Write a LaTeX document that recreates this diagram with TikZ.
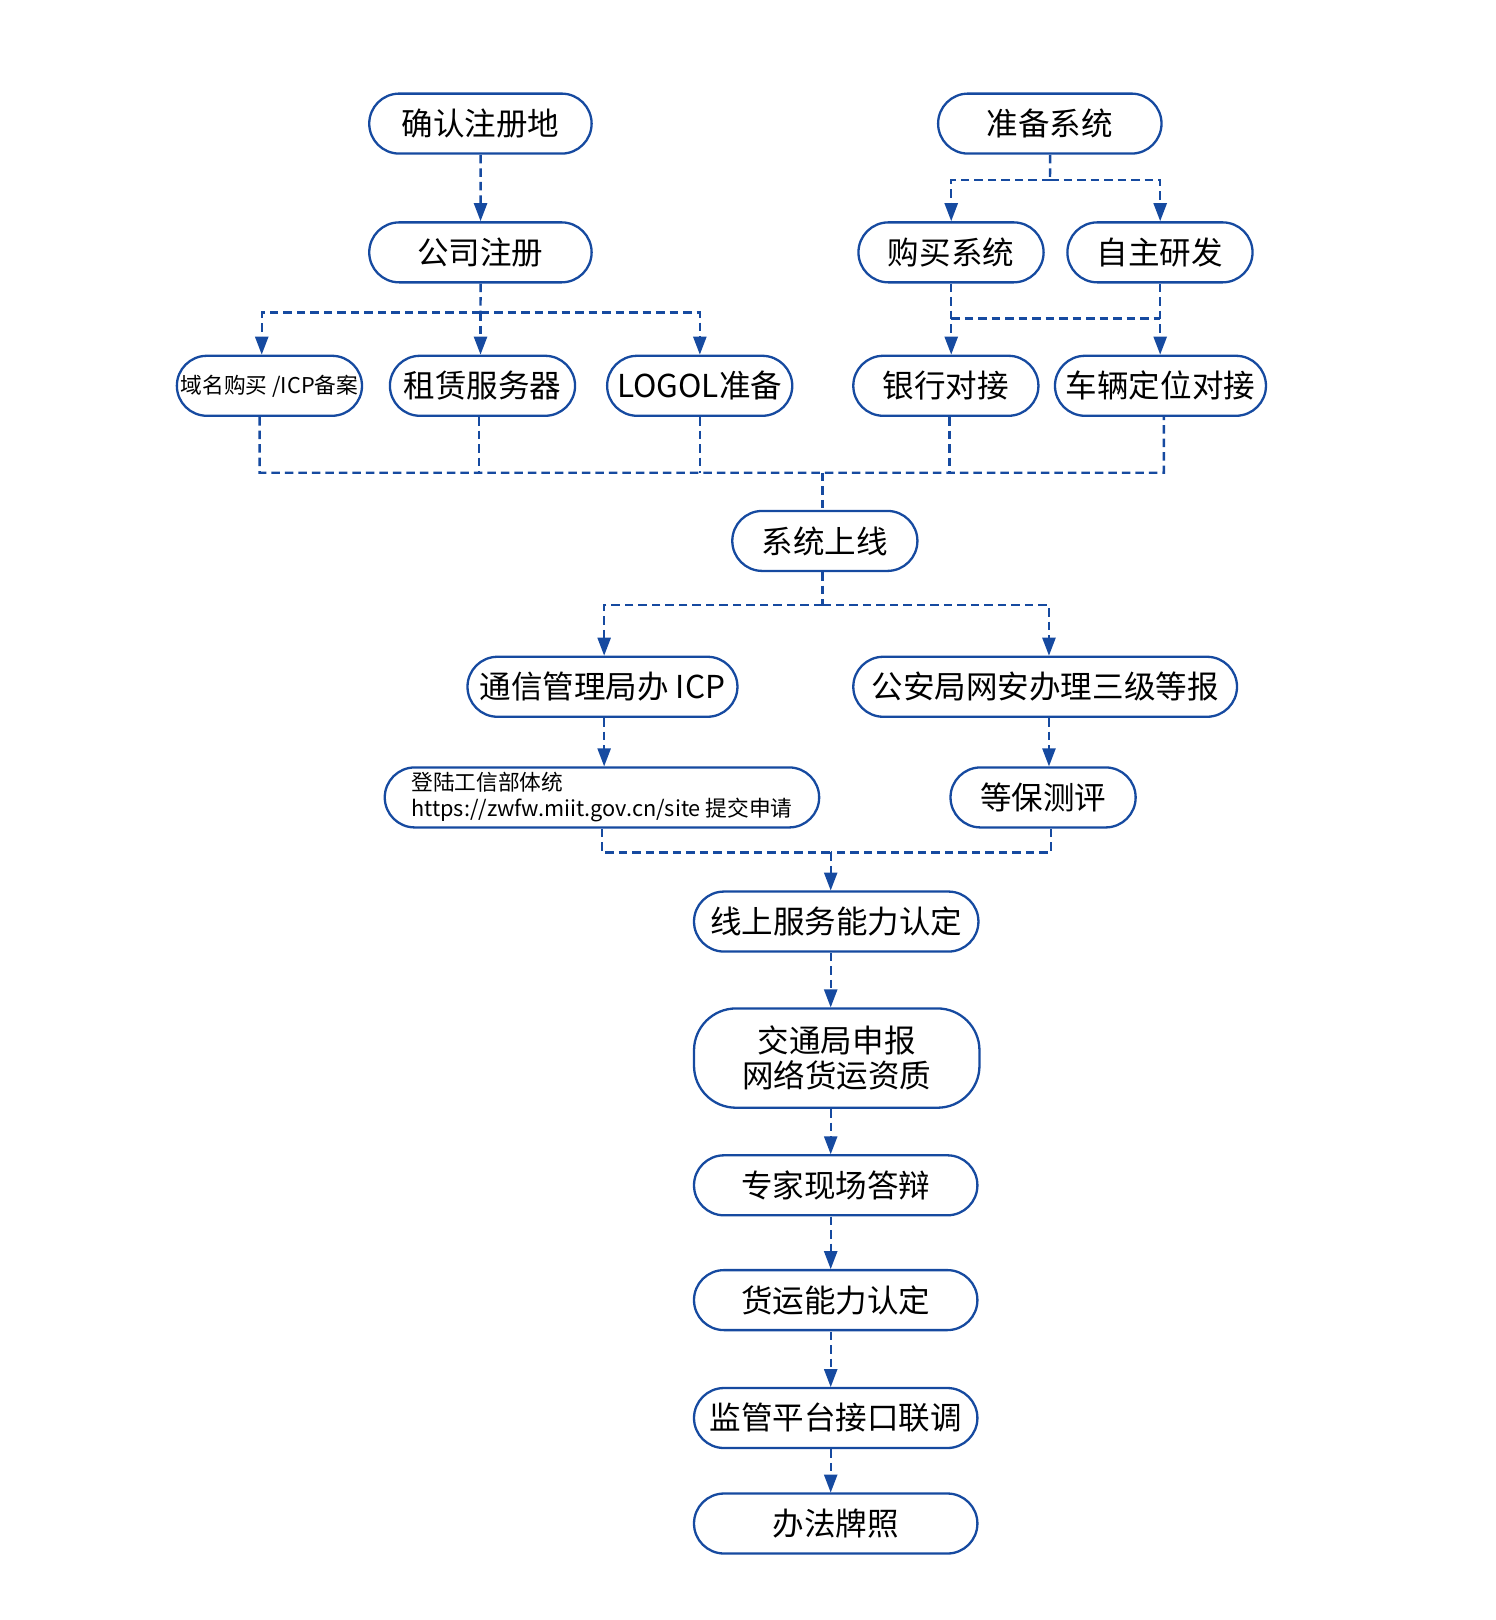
\documentclass[tikz,border=0pt]{standalone}
\usepackage{fontspec}
\setmainfont{Noto Sans CJK SC}
\usetikzlibrary{arrows.meta}
\definecolor{bl}{RGB}{22,74,160}
\begin{document}
\begin{tikzpicture}[x=1pt,y=-1pt,scale=1.0343,
 every node/.append style={transform shape},
 box/.style={draw=bl,line width=2.3pt,rounded corners=30pt,minimum height=58pt,minimum width=179pt,inner sep=0pt,font=\fontsize{30.5}{34}\selectfont,fill=white,align=center},
 smallbox/.style={box,font=\fontsize{21}{25}\selectfont},
 ln/.style={draw=bl,line width=2.4pt,dash pattern=on 8.5pt off 5pt},
 arr/.style={ln,-{Triangle[length=18pt,width=13pt]}}]
\useasboundingbox (0,0) rectangle (1446.4,1566.3);
% nodes
\node[box,minimum width=215pt] (a1) at (464.5,119.5) {确认注册地};
\node[box,minimum width=216pt] (b1) at (1015,119.5) {准备系统};
\node[box,minimum width=215pt] (a2) at (464.5,244) {公司注册};
\node[box] (b2) at (919.5,244) {购买系统};
\node[box] (b3) at (1121.5,244) {自主研发};
\node[smallbox] (c1) at (260.5,373) {域名购买 /ICP备案};
\node[box] (c2) at (466.5,373) {租赁服务器};
\node[box] (c3) at (676.5,373) {LOGOL准备};
\node[box] (c4) at (914.5,373) {银行对接};
\node[box,minimum width=204pt] (c5) at (1122,373) {车辆定位对接};
\node[box] (d1) at (797.5,523) {系统上线};
\node[box,minimum width=261pt] (e1) at (582.5,664) {通信管理局办 ICP};
\node[box,minimum width=371pt] (e2) at (1010.5,664) {公安局网安办理三级等报};
\node[smallbox,minimum width=420pt,align=left] (f1) at (582,771) {登陆工信部体统\\https://zwfw.miit.gov.cn/site 提交申请};
\node[box] (f2) at (1008.5,771) {等保测评};
\node[box,minimum width=275pt] (g1) at (808.5,891) {线上服务能力认定};
\node[box,minimum width=276pt,minimum height=96pt,rounded corners=42pt] (g2) at (809,1023) {交通局申报\\网络货运资质};
\node[box,minimum width=274pt] (g3) at (808,1146) {专家现场答辩};
\node[box,minimum width=274pt] (g4) at (808,1257) {货运能力认定};
\node[box,minimum width=274pt] (g5) at (808,1371) {监管平台接口联调};
\node[box,minimum width=274pt] (g6) at (808,1473) {办法牌照};
% junctions
\coordinate (ja) at (464.5,302);
\coordinate (jb) at (1015,174);
\coordinate (jr) at (1020,308);
\coordinate (hl) at (251,457);
\coordinate (hr) at (1125,457);
\coordinate (jc) at (795,457);
\coordinate (jd) at (795,585);
\coordinate (jf) at (803,824);
% connectors
\draw[arr] (a1) -- (a2);
\draw[ln] (b1) -- (jb);
\draw[arr] (jb) -| (b2.north);
\draw[arr] (jb) -| (b3.north);
\draw[ln] (a2) -- (ja);
\draw[arr] (ja) -| ([xshift=-7.5pt]c1.north);
\draw[arr] (ja) -- (ja |- c2.north);
\draw[arr] (ja) -| (c3.north);
\draw[arr] (b2.south) -- (b2.south |- c4.north);
\draw[arr] (b3.south) -- (b3.south |- c5.north);
\draw[ln] (b2.south |- jr) -- (b3.south |- jr);
\draw[ln] ([xshift=-9.5pt]c1.south) -- (hl) -- (hr) -- ([xshift=3pt]c5.south);
\draw[ln] ([xshift=-3.5pt]c2.south) -- ([xshift=-3.5pt]c2.south |- hl);
\draw[ln] (c3.south) -- (c3.south |- hl);
\draw[ln] ([xshift=3.5pt]c4.south) -- ([xshift=3.5pt]c4.south |- hl);
\draw[ln] (jc) -- (jc |- d1.north);
\draw[ln] (jd |- d1.south) -- (jd);
\draw[arr] (jd) -| ([xshift=1.5pt]e1.north);
\draw[arr] (jd) -| ([xshift=3.5pt]e2.north);
\draw[arr] ([xshift=1.5pt]e1.south) -- ([xshift=1.5pt]e1.south |- f1.north);
\draw[arr] ([xshift=3.5pt]e2.south) -- ([xshift=3.5pt]e2.south |- f2.north);
\draw[ln] (f1.south) |- (jf);
\draw[ln] ([xshift=7.5pt]f2.south) |- (jf);
\draw[arr] (jf) -- (jf |- g1.north);
\draw[arr] (jf |- g1.south) -- (jf |- g2.north);
\draw[arr] (jf |- g2.south) -- (jf |- g3.north);
\draw[arr] (jf |- g3.south) -- (jf |- g4.north);
\draw[arr] (jf |- g4.south) -- (jf |- g5.north);
\draw[arr] (jf |- g5.south) -- (jf |- g6.north);
\end{tikzpicture}
\end{document}
